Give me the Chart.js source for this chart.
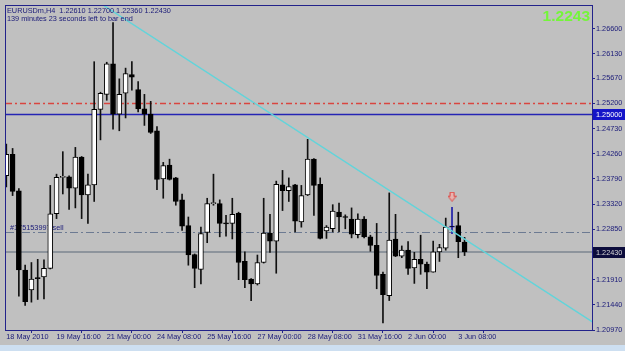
<!DOCTYPE html>
<html>
<head>
<meta charset="utf-8">
<script src="https://cdn.jsdelivr.net/npm/chart.js@4.4.1/dist/chart.umd.min.js"></script>
<style>
html, body { margin: 0; padding: 0; background: #c0c0c0; }
#wrap { position: relative; width: 625px; height: 351px; }
canvas { display: block; }
</style>
</head>
<body>
<div id="wrap"><canvas id="chart" width="625" height="351"></canvas></div>
<script>
// EURUSDm H4, one value per bar (bar 0 = 18 May 08:00)
const opens = [
  1.2385, 1.2425, 1.2357, 1.2209, 1.2172, 1.2195, 1.2196, 1.2212, 1.2314, 1.2382,
  1.2383, 1.2362, 1.2420, 1.2349, 1.2368, 1.2509, 1.2537, 1.2594, 1.2500, 1.2539,
  1.2574, 1.2546, 1.2510, 1.2500, 1.2469, 1.2379, 1.2405, 1.2381, 1.2340, 1.2292,
  1.2238, 1.2210, 1.2279, 1.2333, 1.2333, 1.2297, 1.2296, 1.2315, 1.2225, 1.2192,
  1.2183, 1.2223, 1.2278, 1.2263, 1.2368, 1.2357, 1.2368, 1.2299, 1.2349, 1.2416,
  1.2369, 1.2282, 1.2286, 1.2317, 1.2309, 1.2304, 1.2275, 1.2304, 1.2271, 1.2255,
  1.2201, 1.2161, 1.2267, 1.2235, 1.2246, 1.2213, 1.2229, 1.2220, 1.2205, 1.2243,
  1.2250, 1.2291, 1.2292, 1.2261
];
const highs = [
  1.2444, 1.2436, 1.2361, 1.2218, 1.2223, 1.2229, 1.2228, 1.2367, 1.2388, 1.2430,
  1.2385, 1.2438, 1.2421, 1.2388, 1.2598, 1.2541, 1.2597, 1.2671, 1.2566, 1.2586,
  1.2598, 1.2561, 1.2537, 1.2524, 1.2477, 1.2410, 1.2416, 1.2382, 1.2351, 1.2308,
  1.2239, 1.2289, 1.2343, 1.2388, 1.2340, 1.2311, 1.2343, 1.2317, 1.2243, 1.2193,
  1.2237, 1.2343, 1.2313, 1.2375, 1.2395, 1.2381, 1.2369, 1.2367, 1.2453, 1.2417,
  1.2381, 1.2292, 1.2331, 1.2334, 1.2312, 1.2325, 1.2314, 1.2309, 1.2274, 1.2296,
  1.2205, 1.2353, 1.2313, 1.2254, 1.2262, 1.2242, 1.2274, 1.2224, 1.2263, 1.2257,
  1.2306, 1.2326, 1.2317, 1.2270
];
const lows = [
  1.2364, 1.2348, 1.2160, 1.2143, 1.2149, 1.2154, 1.2155, 1.2211, 1.2305, 1.2351,
  1.2322, 1.2325, 1.2305, 1.2296, 1.2337, 1.2452, 1.2526, 1.2472, 1.2469, 1.2493,
  1.2545, 1.2504, 1.2479, 1.2464, 1.2359, 1.2343, 1.2377, 1.2330, 1.2283, 1.2218,
  1.2176, 1.2183, 1.2260, 1.2330, 1.2271, 1.2272, 1.2267, 1.2191, 1.2176, 1.2152,
  1.2181, 1.2222, 1.2242, 1.2203, 1.2320, 1.2337, 1.2280, 1.2289, 1.2348, 1.2311,
  1.2267, 1.2268, 1.2280, 1.2280, 1.2286, 1.2269, 1.2269, 1.2269, 1.2244, 1.2174,
  1.2110, 1.2152, 1.2234, 1.2232, 1.2201, 1.2184, 1.2201, 1.2174, 1.2205, 1.2225,
  1.2246, 1.2277, 1.2232, 1.2236
];
const closes = [
  1.2425, 1.2356, 1.2209, 1.2150, 1.2192, 1.2193, 1.2212, 1.2314, 1.2382, 1.2384,
  1.2362, 1.2420, 1.2349, 1.2368, 1.2509, 1.2539, 1.2594, 1.2500, 1.2537, 1.2576,
  1.2569, 1.2510, 1.2500, 1.2466, 1.2378, 1.2404, 1.2378, 1.2337, 1.2291, 1.2237,
  1.2212, 1.2277, 1.2333, 1.2335, 1.2296, 1.2295, 1.2313, 1.2223, 1.2191, 1.2183,
  1.2223, 1.2278, 1.2263, 1.2369, 1.2357, 1.2365, 1.2300, 1.2348, 1.2416, 1.2367,
  1.2268, 1.2289, 1.2319, 1.2308, 1.2307, 1.2276, 1.2304, 1.2271, 1.2255, 1.2199,
  1.2163, 1.2265, 1.2235, 1.2246, 1.2212, 1.2229, 1.2220, 1.2205, 1.2243, 1.2251,
  1.2289, 1.2289, 1.2262, 1.2243
];

const timeTickBars = [0, 8, 16, 24, 32, 40, 48, 56, 64, 72];
const timeTickLabels = ['18 May 2010', '19 May 16:00', '21 May 00:00', '24 May 08:00', '25 May 16:00',
  '27 May 00:00', '28 May 08:00', '31 May 16:00', '2 Jun 00:00', '3 Jun 08:00'];
const priceTicks = [1.2660, 1.2613, 1.2567, 1.2520, 1.2473, 1.2426, 1.2379, 1.2332, 1.2285,
  1.2191, 1.2144, 1.2097];

const resistancePrice = 1.2520;
const roundLevel = 1.2500;
const orderPrice = 1.2280;
const orderLabel = '#175153997 sell';
const bidPrice = 1.2243;
const trendBars = [15.5, 93.5];
const trendPrices = [1.2703, 1.2111];
const sellArrowBar = [71];
const sellArrowPrice = [1.2346];
const orderBar = 71;
const headerText = 'EURUSDm,H4  1.22610 1.22700 1.22360 1.22430';
const timerText = '139 minutes 23 seconds left to bar end';

const NAVY = '#1a1a78';
const FONT = 'Liberation Sans';

// red down arrow for the sell mark
const arrowImg = document.createElement('canvas');
arrowImg.width = 9; arrowImg.height = 10;
(function () {
  const a = arrowImg.getContext('2d');
  a.strokeStyle = '#e0403c'; a.fillStyle = '#e8b4b0'; a.lineWidth = 1;
  a.beginPath();
  a.moveTo(2.5, 0.5); a.lineTo(6.5, 0.5); a.lineTo(6.5, 4.5); a.lineTo(8.5, 4.5);
  a.lineTo(4.5, 9.5); a.lineTo(0.5, 4.5); a.lineTo(2.5, 4.5); a.closePath();
  a.fill(); a.stroke();
})();

function hline(ctx, area, y, color, dash, width) {
  ctx.save();
  ctx.strokeStyle = color;
  ctx.lineWidth = width;
  ctx.setLineDash(dash);
  const py = width % 2 ? Math.round(y) + 0.5 : Math.round(y);
  ctx.beginPath();
  ctx.moveTo(area.left, py);
  ctx.lineTo(area.right, py);
  ctx.stroke();
  ctx.restore();
}

function priceBox(ctx, y, text, bg, fg) {
  ctx.save();
  ctx.fillStyle = bg;
  ctx.fillRect(593, Math.round(y) - 5, 32, 11);
  ctx.fillStyle = fg;
  ctx.font = '7.3px "' + FONT + '"';
  ctx.textBaseline = 'middle';
  ctx.fillText(text, 596, Math.round(y) + 0.5);
  ctx.restore();
}

const mtPlugin = {
  id: 'mt',
  beforeDraw(chart) {
    const c = chart.ctx;
    c.save();
    c.fillStyle = '#c0c0c0';
    c.fillRect(0, 0, chart.width, chart.height);
    c.fillStyle = '#cddff1';
    c.fillRect(0, 345, chart.width, 6);
    c.restore();
  },
  beforeDatasetsDraw(chart) {
    const { ctx, chartArea: area, scales: { y } } = chart;
    ctx.save();
    ctx.beginPath();
    ctx.rect(area.left, area.top, area.width, area.height);
    ctx.clip();
    hline(ctx, area, y.getPixelForValue(resistancePrice), '#d9453f', [6, 3, 2, 3], 1.5);
    hline(ctx, area, y.getPixelForValue(roundLevel), '#2424b4', [], 1.5);
    hline(ctx, area, y.getPixelForValue(orderPrice), '#6c7a92', [8, 3, 2, 3], 1);
    hline(ctx, area, y.getPixelForValue(bidPrice), '#8d949c', [], 2);
    ctx.fillStyle = NAVY;
    ctx.font = '7.3px "' + FONT + '"';
    ctx.textBaseline = 'alphabetic';
    ctx.fillText(orderLabel, area.left + 4, y.getPixelForValue(orderPrice) - 2);
    ctx.restore();
  },
  afterDraw(chart) {
    const { ctx, chartArea: area, scales: { y } } = chart;
    ctx.save();
    ctx.strokeStyle = '#22228a';
    ctx.lineWidth = 1;
    ctx.strokeRect(area.left - 0.5, area.top - 0.5, area.width + 1, area.height + 1);
    ctx.fillStyle = NAVY;
    ctx.font = '7.3px "' + FONT + '"';
    ctx.textBaseline = 'alphabetic';
    ctx.fillText(headerText, 7, 13);
    ctx.fillText(timerText, 7, 21);
    ctx.fillStyle = '#74f53a';
    ctx.font = 'bold 15.5px "' + FONT + '"';
    ctx.textAlign = 'right';
    ctx.fillText(bidPrice.toFixed(4), 590, 20.5);
    ctx.restore();
    priceBox(ctx, y.getPixelForValue(roundLevel), roundLevel.toFixed(5), '#1414c8', '#ffffff');
    priceBox(ctx, y.getPixelForValue(bidPrice), bidPrice.toFixed(5), '#0c0c3c', '#d8d8d8');
  }
};

const bars = opens.map((o, i) => i);

new Chart(document.getElementById('chart'), {
  data: {
    datasets: [
      {
        type: 'bar',
        label: 'wicks',
        data: bars.map(i => ({ x: i, y: [lows[i], highs[i]] })),
        barThickness: 1,
        grouped: false,
        backgroundColor: bars.map(i => i === orderBar ? '#1c1ca8' : '#101010'),
        borderWidth: 0,
        order: 3
      },
      {
        type: 'bar',
        label: 'bodies',
        data: bars.map(i => ({ x: i, y: [opens[i], closes[i]] })),
        barThickness: 5,
        grouped: false,
        backgroundColor: bars.map(i => closes[i] >= opens[i] ? '#ffffff' : '#000000'),
        borderColor: bars.map(i => i === orderBar ? '#1c1ca8' : '#000000'),
        borderWidth: 1,
        borderSkipped: false,
        order: 2
      },
      {
        type: 'line',
        label: 'trend',
        data: trendBars.map((b, k) => ({ x: b, y: trendPrices[k] })),
        borderColor: '#62d4da',
        borderWidth: 1.5,
        pointRadius: 0,
        order: 1
      },
      {
        type: 'scatter',
        label: 'sell',
        data: sellArrowBar.map((b, k) => ({ x: b, y: sellArrowPrice[k] })),
        pointStyle: arrowImg,
        pointRadius: 5,
        order: 0
      }
    ]
  },
  options: {
    responsive: false,
    animation: false,
    devicePixelRatio: 1,
    layout: { padding: { left: 4, top: 4, right: 0, bottom: 0 } },
    plugins: { legend: { display: false }, tooltip: { enabled: false } },
    scales: {
      x: {
        type: 'linear',
        min: -0.05,
        max: 93.3,
        offset: false,
        afterBuildTicks: s => { s.ticks = timeTickBars.map(v => ({ value: v })); },
        afterFit: s => { s.height = 21; },
        ticks: {
          autoSkip: false,
          maxRotation: 0,
          align: 'start',
          padding: 0,
          color: NAVY,
          font: { family: FONT, size: 7.3 },
          callback: v => timeTickLabels[timeTickBars.indexOf(v)]
        },
        grid: { drawOnChartArea: false, drawTicks: true, tickLength: 3, color: '#22228a' },
        border: { display: false }
      },
      y: {
        position: 'right',
        min: 1.2097,
        max: 1.2702,
        afterBuildTicks: s => { s.ticks = priceTicks.map(v => ({ value: v })); },
        afterFit: s => { s.width = 33; },
        ticks: {
          padding: 1,
          color: NAVY,
          font: { family: FONT, size: 7.3 },
          callback: v => v.toFixed(5)
        },
        grid: { drawOnChartArea: false, drawTicks: true, tickLength: 3, color: '#22228a' },
        border: { display: false }
      }
    }
  },
  plugins: [mtPlugin]
});
</script>
</body>
</html>
